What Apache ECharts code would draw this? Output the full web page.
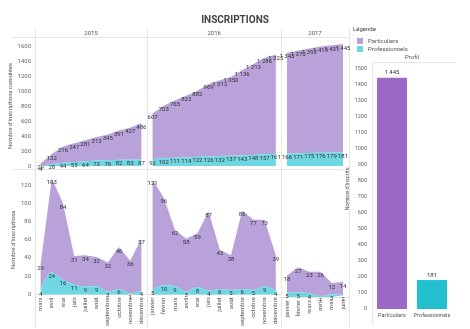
<!DOCTYPE html>
<html><head><meta charset="utf-8">
<script src="https://cdn.jsdelivr.net/npm/echarts@6/dist/echarts.min.js"></script>
<style>html,body{margin:0;padding:0;background:#fff}#c{width:470px;height:329px}</style>
</head><body><div id="c"></div>
<script>
// ---- data ----
const years = ['2015', '2016', '2017'];
const months2015 = ['mars','avril','mai','juin','juillet','août','septembre','octobre','novembre','décembre'];
const months2016 = ['janvier','février','mars','avril','mai','juin','juillet','août','septembre','octobre','novembre','décembre'];
const months2017 = ['janvier','février','mars','avril','mai','juin'];

// monthly registrations
const part2015 = [29,103,84,31,34,32,32,46,36,57];
const pro2015  = [4,24,16,11,9,9,3,6,1,4];
const part2016 = [121,96,62,58,59,87,43,38,86,77,73,39];
const pro2016  = [5,10,9,3,8,4,6,5,6,5,9,4];
const part2017 = [18,27,23,26,12,14];
const pro2017  = [5,5,4,1,3,2];

// cumulative registrations (as labelled)
const partCum2015 = [29,132,216,247,281,313,345,391,427,486];
const proCum2015  = [4,28,44,55,64,73,76,82,83,87];
const partCum2016 = [607,703,765,823,882,969,1012,1050,1136,1213,1286,1325];
const proCum2016  = [92,102,111,114,122,126,132,137,143,148,157,161];
const partCum2017 = [1343,1370,1393,1419,1431,1445];
const proCum2017  = [166,171,175,176,179,181];

// totals by profile
const profils = ['Particuliers', 'Professionnels'];
const totals  = [1445, 181];

const cumTicks = {min: 0, max: 1600, interval: 200};
const monTicks = {min: 0, max: 120, interval: 20};
const barTicks = {min: 0, max: 1500, interval: 100};

// ---- layout / style ----
const PURPLE = '#b9a1d9', CYAN = '#6fd7e1';
const PURPLE_BAR = '#9a69c6', CYAN_BAR = '#22c0cf';
const FONT = 'Roboto, "Noto Sans", sans-serif';
const X0 = 35, BW = 11.2;
const monthSets = [months2015, months2016, months2017];
const lefts = [], widths = [];
{ let x = X0; monthSets.forEach(m => { lefts.push(x); widths.push(m.length * BW); x += m.length * BW; }); }
const X_END = X0 + widths.reduce((a, b) => a + b, 0);
const TOP = {top: 46, height: 120}, BOT = {top: 185, height: 112};

const fmt = v => String(v).replace(/\B(?=(\d{3})+(?!\d))/g, ' ');
const plain = v => String(v);

const grids = [], xAxes = [], yAxes = [], series = [];
const cumData = [[partCum2015, proCum2015], [partCum2016, proCum2016], [partCum2017, proCum2017]];
const monData = [[part2015, pro2015], [part2016, pro2016], [part2017, pro2017]];

function addRow(rowIdx, box, data, ticks, yName) {
  monthSets.forEach((months, i) => {
    const gi = grids.length;
    grids.push({left: lefts[i], width: widths[i], top: box.top, height: box.height});
    xAxes.push({
      type: 'category', gridIndex: gi, data: months, boundaryGap: true,
      axisTick: {show: false},
      axisLine: {show: rowIdx === 1, lineStyle: {color: '#e2e2e2'}},
      axisLabel: rowIdx === 1 ? {rotate: 90, interval: 0, fontSize: 6, color: '#555', margin: 3, fontFamily: FONT} : {show: false}
    });
    yAxes.push(Object.assign({
      type: 'value', gridIndex: gi,
      splitLine: {show: false}, axisLine: {show: false}, axisTick: {show: false},
      axisLabel: {show: i === 0, fontSize: 6, color: '#666', margin: 4, fontFamily: FONT, formatter: plain},
      name: i === 0 ? yName : '', nameLocation: 'middle', nameGap: 17,
      nameTextStyle: {fontSize: 6, color: '#555', fontFamily: FONT}
    }, ticks));
    const [part, pro] = data[i];
    const lbl = {show: true, position: 'bottom', distance: 1, fontSize: 6, color: '#333', fontFamily: FONT, formatter: p => fmt(p.value)};
    series.push({
      name: 'Professionnels', type: 'line', xAxisIndex: gi, yAxisIndex: gi, stack: 's' + gi,
      data: pro, symbol: 'circle', symbolSize: 0.01, smooth: rowIdx === 1 ? 0.4 : false, clip: false,
      lineStyle: {width: 0}, itemStyle: {color: CYAN}, areaStyle: {color: CYAN, opacity: 1}, label: lbl, z: 3
    });
    series.push({
      name: 'Particuliers', type: 'line', xAxisIndex: gi, yAxisIndex: gi, stack: 's' + gi,
      data: part, symbol: 'circle', symbolSize: 0.01, smooth: false, clip: false,
      lineStyle: {width: 0}, itemStyle: {color: PURPLE}, areaStyle: {color: PURPLE, opacity: 1}, label: lbl, z: 2
    });
  });
}
addRow(0, TOP, cumData, cumTicks, "Nombre d'inscriptions cumulées");
addRow(1, BOT, monData, monTicks, "Nombre d'inscriptions");

// bar chart
const gb = grids.length;
grids.push({left: 372, width: 80, top: 69, height: 240});
xAxes.push({type: 'category', gridIndex: gb, data: profils, axisTick: {show: false},
  axisLine: {show: false}, axisLabel: {interval: 0, fontSize: 5.5, color: '#555', margin: 4, fontFamily: FONT}});
yAxes.push(Object.assign({type: 'value', gridIndex: gb, splitLine: {show: false}, axisLine: {show: false}, axisTick: {show: false},
  axisLabel: {fontSize: 5.5, color: '#666', margin: 5, fontFamily: FONT, formatter: plain},
  name: "Nombre d'inscrits", nameLocation: 'middle', nameGap: 13,
  nameTextStyle: {fontSize: 5.5, color: '#555', fontFamily: FONT}}, barTicks));
series.push({type: 'bar', xAxisIndex: gb, yAxisIndex: gb, barWidth: 30,
  data: totals.map((v, i) => ({value: v, itemStyle: {color: i === 0 ? PURPLE_BAR : CYAN_BAR}})),
  label: {show: true, position: 'top', distance: 2, fontSize: 6, color: '#333', fontFamily: FONT, formatter: p => fmt(p.value)}});

// decorations: panel separators and headers
const LC = '#e6e6e6';
const graphic = [];
const line = (x1, y1, x2, y2) => graphic.push({type: 'line', shape: {x1, y1, x2, y2}, style: {stroke: LC, lineWidth: 1}, silent: true});
[X0, lefts[1], lefts[2], X_END].forEach(x => line(Math.round(x) + 0.5, 28, Math.round(x) + 0.5, 328));
line(12, 37.5, X_END, 37.5);
line(12, 169.5, X_END, 169.5);
line(372.5, 62, 372.5, 325);
line(372, 62.5, 456, 62.5);
years.forEach((y, i) => graphic.push({type: 'text', x: lefts[i] + widths[i] / 2, y: 30,
  style: {text: y, fontSize: 6, fill: '#555', textAlign: 'center', fontFamily: FONT}}));
graphic.push({type: 'text', x: 412, y: 54, style: {text: 'Profil', fontSize: 6, fill: '#555', textAlign: 'center', fontFamily: FONT}});
graphic.push({type: 'text', x: 353, y: 26, style: {text: 'Légende', fontSize: 6, fill: '#444', fontFamily: FONT}});

const chart = echarts.init(document.getElementById('c'), null, {renderer: 'canvas'});
chart.setOption({
  animation: false,
  backgroundColor: '#fff',
  title: {text: 'INSCRIPTIONS', left: 'center', top: 10,
    textStyle: {fontSize: 10, fontWeight: 'bold', color: '#444', fontFamily: FONT}},
  legend: {orient: 'vertical', left: 352, top: 33, itemWidth: 6, itemHeight: 6, itemGap: 2, icon: 'rect',
    data: ['Particuliers', 'Professionnels'], textStyle: {fontSize: 6, color: '#555', fontFamily: FONT}},
  grid: grids, xAxis: xAxes, yAxis: yAxes, series, graphic
});
</script></body></html>
